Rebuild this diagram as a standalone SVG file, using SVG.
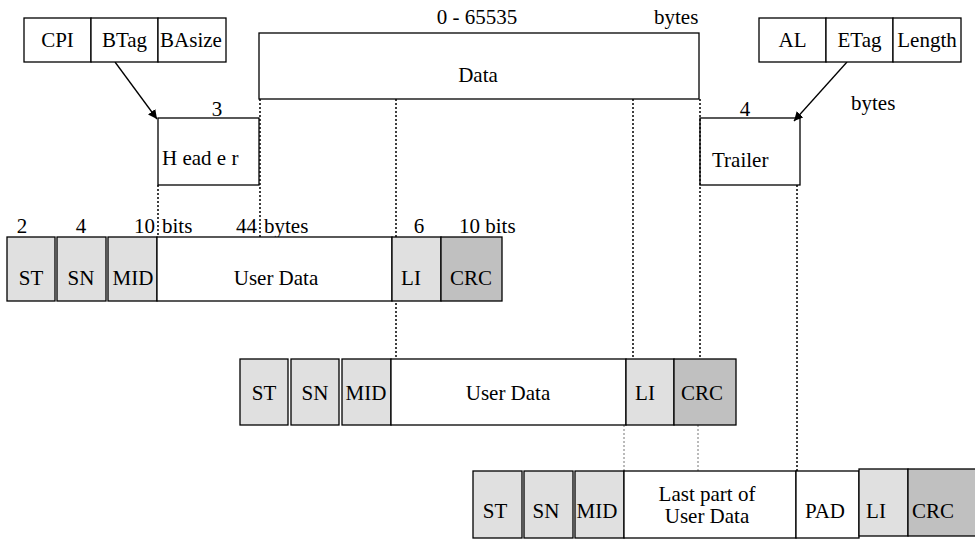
<svg xmlns="http://www.w3.org/2000/svg" width="975" height="540" viewBox="0 0 975 540">
<style>
text{font-family:"Liberation Serif","Times New Roman",serif;font-size:21px;fill:#000}
.m{text-anchor:middle}
.w{fill:#fff;stroke:#000;stroke-width:1.3}
.o{fill:none;stroke:#000;stroke-width:1.3}
.l{fill:#e0e0e0;stroke:#000;stroke-width:1.3}
.d{fill:#c0c0c0;stroke:#000;stroke-width:1.3}
.dot{stroke:#000;stroke-width:1.5;stroke-dasharray:2,2;fill:none}
.gdot{stroke:#777;stroke-width:1;stroke-dasharray:2,2;fill:none}
.arr{stroke:#000;stroke-width:1.3;fill:none;marker-end:url(#ah)}
</style>
<defs>
<marker id="ah" viewBox="0 0 10 10" refX="10" refY="5" markerWidth="9" markerHeight="9" markerUnits="userSpaceOnUse" orient="auto">
<path d="M0,0 L10,5 L0,10 z" fill="#000"/>
</marker>
</defs>
<rect width="975" height="540" fill="#fff"/>

<g id="connectors">
<line class="dot" x1="158" y1="185" x2="158" y2="237"/>
<line class="dot" x1="260" y1="99" x2="260" y2="237"/>
<line class="dot" x1="396" y1="99" x2="396" y2="359"/>
<line class="dot" x1="633" y1="99" x2="633" y2="359"/>
<line class="dot" x1="700" y1="99" x2="700" y2="359"/>
<line class="dot" x1="797" y1="185" x2="797" y2="471"/>
<line class="gdot" x1="624" y1="425" x2="624" y2="471"/>
<line class="gdot" x1="698" y1="425" x2="698" y2="471"/>
<line class="arr" x1="115" y1="62" x2="157" y2="119"/>
<line class="arr" x1="847" y1="62" x2="794" y2="121"/>
</g>

<g id="sar-header-fields">
<rect class="w" x="24" y="18" width="67" height="44"/>
<rect class="w" x="91" y="18" width="67" height="44"/>
<rect class="w" x="158" y="18" width="68" height="44"/>
<text class="m" x="57.5" y="47">CPI</text>
<text class="m" x="124.5" y="47">BTag</text>
<text class="m" x="191" y="47">BAsize</text>
</g>

<g id="data">
<rect class="w" x="259" y="33" width="440" height="66"/>
<text class="m" x="478" y="82">Data</text>
<text class="m" x="477" y="24">0 - 65535</text>
<text x="654" y="24">bytes</text>
</g>

<g id="header">
<rect class="o" x="158" y="118" width="101" height="67"/>
<text class="m" x="217" y="116">3</text>
<text x="162" y="165">H ead e r</text>
</g>

<g id="trailer-fields">
<rect class="w" x="759" y="18" width="67" height="44"/>
<rect class="w" x="826" y="18" width="67" height="44"/>
<rect class="w" x="893" y="18" width="68" height="44"/>
<text class="m" x="792.5" y="47">AL</text>
<text class="m" x="859.5" y="47">ETag</text>
<text class="m" x="927" y="47">Length</text>
<text x="851" y="110">bytes</text>
</g>

<g id="trailer">
<rect class="o" x="700" y="118" width="100" height="67"/>
<text class="m" x="745" y="116">4</text>
<text x="712" y="167">Trailer</text>
</g>

<g id="cell1">
<text class="m" x="22" y="233">2</text>
<text class="m" x="81" y="233">4</text>
<text x="134" y="233">10</text>
<text x="162" y="233">bits</text>
<text x="236" y="233">44</text>
<text x="264" y="233">bytes</text>
<text class="m" x="419" y="233">6</text>
<text x="459" y="233">10 bits</text>
<rect class="l" x="7" y="237" width="48" height="64"/>
<rect class="l" x="57" y="237" width="49" height="64"/>
<rect class="l" x="108" y="237" width="49" height="64"/>
<rect class="w" x="157" y="237" width="235" height="64"/>
<rect class="l" x="392" y="237" width="49" height="64"/>
<rect class="d" x="441" y="237" width="61" height="64"/>
<text class="m" x="31" y="285">ST</text>
<text class="m" x="81" y="285">SN</text>
<text class="m" x="133" y="285">MID</text>
<text class="m" x="276" y="285">User Data</text>
<text class="m" x="411" y="285">LI</text>
<text class="m" x="471" y="285">CRC</text>
</g>

<g id="cell2">
<rect class="l" x="240" y="359" width="48" height="66"/>
<rect class="l" x="291" y="359" width="48" height="66"/>
<rect class="l" x="342" y="359" width="49" height="66"/>
<rect class="w" x="391" y="359" width="235" height="66"/>
<rect class="l" x="626" y="359" width="48" height="66"/>
<rect class="d" x="674" y="359" width="62" height="66"/>
<text class="m" x="264" y="400">ST</text>
<text class="m" x="315" y="400">SN</text>
<text class="m" x="366" y="400">MID</text>
<text class="m" x="508" y="400">User Data</text>
<text class="m" x="645" y="400">LI</text>
<text class="m" x="702" y="400">CRC</text>
</g>

<g id="cell3">
<rect class="l" x="473" y="471" width="49" height="67"/>
<rect class="l" x="524" y="471" width="49" height="67"/>
<rect class="l" x="575" y="471" width="49" height="67"/>
<rect class="w" x="624" y="471" width="172" height="67"/>
<rect class="w" x="796" y="471" width="63" height="67"/>
<rect class="l" x="859" y="469" width="49" height="67"/>
<rect class="d" x="908" y="469" width="70" height="67"/>
<text class="m" x="495" y="518">ST</text>
<text class="m" x="546" y="518">SN</text>
<text class="m" x="597" y="518">MID</text>
<text class="m" x="707" y="501">Last part of</text>
<text class="m" x="707" y="523">User Data</text>
<text class="m" x="825" y="518">PAD</text>
<text class="m" x="876" y="518">LI</text>
<text class="m" x="933" y="518">CRC</text>
</g>
</svg>
